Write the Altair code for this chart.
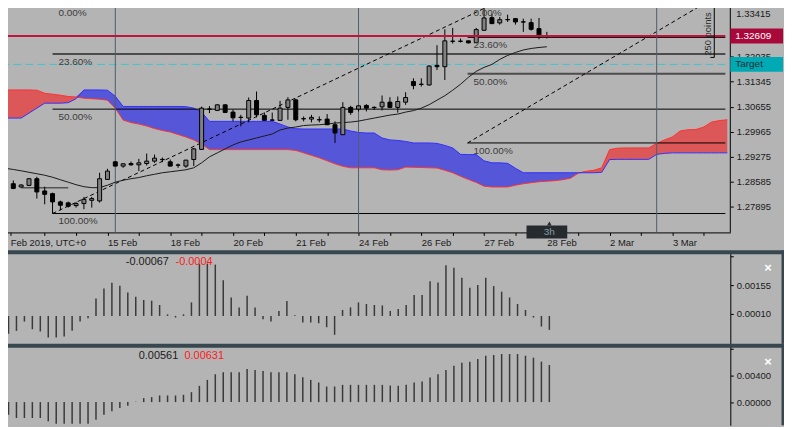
import altair as alt
import pandas as pd

FONT = "Liberation Sans"
BG = "#b4b4b4"
SEP = "#37474f"

# ---------------- data ----------------
candle_i = list(range(70))
opens = [1.28939, 1.28527, 1.28437, 1.28481, 1.28665, 1.28327, 1.28253, 1.28025, 1.27998, 1.27923,
         1.27978, 1.28069, 1.28052, 1.28646, 1.29132, 1.29014, 1.29085, 1.29049, 1.29085, 1.29151,
         1.29190, 1.29132, 1.29045, 1.29014, 1.29195, 1.29475, 1.30590, 1.30551, 1.30705, 1.30505,
         1.30362, 1.30340, 1.30826, 1.30414, 1.30288, 1.30277, 1.30634, 1.30842, 1.30324, 1.30312,
         1.30296, 1.30312, 1.30156, 1.29881, 1.30634, 1.30587, 1.30689, 1.30637, 1.30650, 1.30779,
         1.30634, 1.30779, 1.31348, 1.31276, 1.31254, 1.31795, 1.31759, 1.32465, 1.32465, 1.32473,
         1.32427, 1.32765, 1.33113, 1.32968, 1.33061, 1.33086, 1.32998, 1.32976, 1.32811, 1.32600]
highs = [1.29077, 1.28618, 1.28514, 1.28678, 1.28720, 1.28445, 1.28280, 1.28061, 1.28033, 1.28025,
         1.28162, 1.28162, 1.28830, 1.28939, 1.29145, 1.29090, 1.29140, 1.29214, 1.29360, 1.29332,
         1.29250, 1.29195, 1.29085, 1.29187, 1.29516, 1.30656, 1.30669, 1.30724, 1.30724, 1.30568,
         1.30430, 1.30908, 1.31073, 1.30496, 1.30491, 1.30815, 1.30916, 1.30875, 1.30386, 1.30430,
         1.30386, 1.30450, 1.30249, 1.30779, 1.30678, 1.30697, 1.30724, 1.30661, 1.30963, 1.30916,
         1.30936, 1.31054, 1.31438, 1.31438, 1.31803, 1.32353, 1.32792, 1.32830, 1.32537, 1.32482,
         1.32830, 1.33470, 1.33223, 1.33132, 1.33196, 1.33105, 1.33086, 1.33086, 1.33105, 1.32721]
lows = [1.28473, 1.28376, 1.28418, 1.28459, 1.28116, 1.27959, 1.27704, 1.27794, 1.27868, 1.27868,
        1.27822, 1.27868, 1.28006, 1.28637, 1.29008, 1.28967, 1.29022, 1.28876, 1.29030, 1.29104,
        1.29123, 1.29008, 1.28967, 1.28967, 1.29014, 1.29461, 1.30477, 1.30532, 1.30477, 1.30249,
        1.30112, 1.30222, 1.30359, 1.30258, 1.30258, 1.30258, 1.30293, 1.30249, 1.30249, 1.30222,
        1.30222, 1.30148, 1.29653, 1.29873, 1.30430, 1.30524, 1.30524, 1.30568, 1.30551, 1.30628,
        1.30491, 1.30705, 1.31136, 1.31210, 1.31238, 1.31666, 1.31392, 1.32399, 1.32427, 1.32399,
        1.32399, 1.32756, 1.32935, 1.32921, 1.32995, 1.32921, 1.32721, 1.32756, 1.32517, 1.32537]
closes = [1.28508, 1.28398, 1.28492, 1.28665, 1.28300, 1.28234, 1.28025, 1.27932, 1.27904, 1.27978,
          1.28096, 1.28116, 1.28665, 1.28876, 1.29014, 1.29077, 1.29049, 1.29104, 1.29151, 1.29233,
          1.29200, 1.29014, 1.29038, 1.29178, 1.29489, 1.30614, 1.30584, 1.30705, 1.30496, 1.30348,
          1.30356, 1.30826, 1.30430, 1.30277, 1.30282, 1.30614, 1.30842, 1.30293, 1.30318, 1.30359,
          1.30290, 1.30156, 1.29928, 1.30634, 1.30496, 1.30678, 1.30614, 1.30631, 1.30779, 1.30634,
          1.30798, 1.30908, 1.31238, 1.31270, 1.31776, 1.31759, 1.32473, 1.32459, 1.32459, 1.32418,
          1.32784, 1.33105, 1.32949, 1.33058, 1.33055, 1.32995, 1.32992, 1.32792, 1.32583, 1.32609]
ma_line = [1.28953, 1.28920, 1.28884, 1.28843, 1.28802, 1.28761, 1.28706, 1.28637, 1.28569, 1.28500,
           1.28445, 1.28418, 1.28418, 1.28486, 1.28569, 1.28624, 1.28665, 1.28698, 1.28747, 1.28788,
           1.28830, 1.28857, 1.28884, 1.28912, 1.28967, 1.29104, 1.29269, 1.29379, 1.29489, 1.29598,
           1.29681, 1.29736, 1.29791, 1.29846, 1.29900, 1.30010, 1.30065, 1.30093, 1.30134, 1.30148,
           1.30156, 1.30175, 1.30203, 1.30216, 1.30230, 1.30257, 1.30299, 1.30340, 1.30381, 1.30422,
           1.30450, 1.30505, 1.30546, 1.30614, 1.30711, 1.30834, 1.30958, 1.31109, 1.31273, 1.31466,
           1.31630, 1.31740, 1.31823, 1.31960, 1.32070, 1.32152, 1.32221, 1.32262, 1.32290, 1.32309]

cloud_i = list(range(-1, 93))
span_a = [1.31117, 1.31117, 1.31117, 1.31117, 1.31117, 1.31109, 1.31026, 1.30999, 1.30971, 1.30936,
          1.30922, 1.30889, 1.30875, 1.30862, 1.30834, 1.30614, 1.30285, 1.30216, 1.30175, 1.30120,
          1.30051, 1.29997, 1.29955, 1.29887, 1.29818, 1.29736, 1.29626, 1.29469, 1.29469, 1.29469,
          1.29469, 1.29469, 1.29469, 1.29469, 1.29469, 1.29469, 1.29469, 1.29469, 1.29447, 1.29379,
          1.29310, 1.29241, 1.29159, 1.29077, 1.29008, 1.28967, 1.28967, 1.28967, 1.28967, 1.28912,
          1.28904, 1.28912, 1.28986, 1.28981, 1.28975, 1.28967, 1.28961, 1.28898, 1.28830, 1.28733,
          1.28646, 1.28563, 1.28459, 1.28437, 1.28437, 1.28437, 1.28486, 1.28527, 1.28555, 1.28582,
          1.28596, 1.28610, 1.28637, 1.28678, 1.28816, 1.28871, 1.28898, 1.28967, 1.29469, 1.29508,
          1.29516, 1.29516, 1.29516, 1.29516, 1.29640, 1.29736, 1.29818, 1.29983, 1.30019, 1.30024,
          1.30093, 1.30230, 1.30271, 1.30293]
span_b = [1.30340, 1.30340, 1.30340, 1.30340, 1.30477, 1.30614, 1.30752, 1.30752, 1.30752, 1.30765,
          1.30875, 1.31117, 1.31117, 1.31117, 1.31109, 1.30944, 1.30661, 1.30661, 1.30661, 1.30661,
          1.30661, 1.30661, 1.30661, 1.30661, 1.30656, 1.30614, 1.30505, 1.30249, 1.30249, 1.30249,
          1.30249, 1.30249, 1.30249, 1.30249, 1.30249, 1.30249, 1.30175, 1.30093, 1.30046, 1.30038,
          1.30038, 1.30038, 1.30038, 1.30038, 1.30038, 1.29983, 1.29942, 1.29928, 1.29928, 1.29791,
          1.29736, 1.29722, 1.29695, 1.29653, 1.29653, 1.29653, 1.29640, 1.29585, 1.29516, 1.29338,
          1.29332, 1.29332, 1.29159, 1.29104, 1.29104, 1.29090, 1.28953, 1.28830, 1.28830, 1.28830,
          1.28830, 1.28830, 1.28830, 1.28830, 1.28830, 1.28830, 1.28830, 1.28843, 1.29195, 1.29200,
          1.29200, 1.29200, 1.29200, 1.29200, 1.29338, 1.29365, 1.29379, 1.29379, 1.29379, 1.29379,
          1.29379, 1.29379, 1.29379, 1.29379]

osc1 = [-0.000585, -0.0009, -0.00075, -0.000283, -0.00067, -0.000783, -0.001083, -0.001083, -0.001033, -0.00075,
        -0.000283, -0.000117, 0.00088, 0.00138, 0.001667, 0.001517, 0.00118, 0.000967, 0.0008, 0.000767,
        0.00055, 0.00008, -0.00008, 0.00008, 0.00068, 0.00263, 0.00263, 0.00258, 0.0018, 0.00093,
        0.00043, 0.001017, 0.00043, -0.000167, -0.000283, 0.00025, 0.00075, 0.00003, -0.00033, -0.00033,
        -0.000367, -0.000567, -0.00095, 0.0003, 0.00043, 0.00068, 0.0006, 0.00055, 0.00053, 0.00025,
        0.00035, 0.00055, 0.00105, 0.00105, 0.00175, 0.00168, 0.00255, 0.00242, 0.00192, 0.00142,
        0.00155, 0.00192, 0.0015, 0.00122, 0.00093, 0.0006, 0.0003, -0.00008, -0.000533, -0.0007]
osc2 = [-0.0019, -0.0019, -0.0024, -0.0024, -0.0024, -0.0024, -0.0029, -0.00325, -0.00325, -0.00325,
        -0.00325, -0.00325, -0.00265, -0.0019, -0.0014, -0.0009, -0.00055, 0.00005, 0.0006, 0.00075,
        0.001, 0.001, 0.001, 0.0011, 0.0015, 0.00245, 0.00335, 0.0042, 0.0045, 0.0045,
        0.0045, 0.005, 0.00485, 0.0047, 0.0045, 0.0045, 0.0045, 0.0042, 0.00375, 0.00335,
        0.00295, 0.00235, 0.00235, 0.0026, 0.0026, 0.0026, 0.0026, 0.0026, 0.0026, 0.0025,
        0.00245, 0.0026, 0.00295, 0.0031, 0.0037, 0.0042, 0.00485, 0.0055, 0.00595, 0.0061,
        0.0065, 0.007, 0.0071, 0.00725, 0.00725, 0.00725, 0.007, 0.0067, 0.0061, 0.0056]

price_ticks = [1.27895, 1.28585, 1.29275, 1.29965, 1.30655, 1.31345, 1.32035, 1.33415]
top_tick_label = "1.33415"
date_pos = [0.6, 13, 21, 29, 37, 45, 53, 61, 69, 77, 85]
date_labels = ["Feb 2019, UTC+0", "15 Feb", "18 Feb", "20 Feb", "21 Feb", "24 Feb",
               "26 Feb", "27 Feb", "28 Feb", "2 Mar", "3 Mar"]
minor_ticks = [5, 9, 13, 17, 21, 25, 29, 33, 37, 41, 45, 49, 53, 57, 61, 65, 69, 73, 77, 81, 85, 89]
osc1_ticks = [0.0001, 0.00155, 0.003]
osc2_ticks = [0.0, 0.004, 0.008]

fib_start = [6, 6, 6, 6, 58.9, 58.9, 58.9, 58.9]
fib_price = [1.33470, 1.32109, 1.30587, 1.27704, 1.33470, 1.32569, 1.31562, 1.29653]
fib_text = ["0.00%", "23.60%", "50.00%", "100.00%", "0.00%", "23.60%", "50.00%", "100.00%"]
fib_style = ["thin", "thick", "thin", "thin", "thin", "thin", "thick", "thin"]

trend_x1 = [6, 58.9]
trend_p1 = [1.27704, 1.29653]
trend_x2 = [62, 91.75]
trend_p2 = [1.33470, 1.33846]

period_sep = [14, 45, 83]
bid_price = 1.32609
target_price = 1.31823
seg_x = [2, 8]
seg_price = 1.28418
ruler_i = 90.34
ruler_foot = [89.85, 90.34]
ruler_low = 1.32015
ruler_text_pos = (89.5, 1.32060)

osc1_texts = ["-0.00067", "-0.0004"]
osc2_texts = ["0.00561", "0.00631"]

X_DOM = [-0.5, 91.75]
Y_DOM = [1.26688, 1.33635]

# ---------------- helpers ----------------
XS = alt.Scale(domain=X_DOM, nice=False, zero=False)
YS = alt.Scale(domain=Y_DOM, nice=False, zero=False)

lab_expr = "''"
for p, t in reversed(list(zip(date_pos, date_labels))):
    lab_expr = f"datum.value == {p} ? '{t}' : ({lab_expr})"

x_axis = alt.Axis(values=[date_pos[0]] + minor_ticks, labelExpr=lab_expr, orient="bottom", offset=-18,
                  tickSize=3, tickColor="black", domainColor="black", labelAlign="left",
                  labelBaseline="top", labelPadding=2, labelFontSize=9.5, labelColor="#1a1a1a",
                  labelFont=FONT, labelFlush=False, labelOverlap=False, grid=False, title=None)
y_axis = alt.Axis(orient="right", values=price_ticks, tickSize=3, tickColor="black",
                  labelExpr="datum.value > 1.334 ? '' : format(datum.value, '.5f')",
                  domain=False, grid=False, labelPadding=3, labelFontSize=9.5, labelColor="#1a1a1a",
                  labelFont=FONT, labelOverlap=False, title=None)


def X(f):
    return alt.X(f, type="quantitative", scale=XS, axis=x_axis)


def Y(f):
    return alt.Y(f, type="quantitative", scale=YS, axis=y_axis)


one = pd.DataFrame({"k": [0]})

# ---------------- main panel ----------------
cloud = pd.DataFrame({"i": cloud_i, "a": span_a, "b": span_b})
red_area = alt.Chart(cloud).transform_calculate(top="max(datum.a, datum.b)").mark_area(
    color="#dc5858", clip=True).encode(x=X("i"), y=Y("top"), y2="b:Q")
blue_area = alt.Chart(cloud).transform_calculate(top="max(datum.a, datum.b)").mark_area(
    color="#5656d8", clip=True).encode(x=X("i"), y=Y("top"), y2="a:Q")
a_line = alt.Chart(cloud).mark_line(color="#ff3030", strokeWidth=1, clip=True).encode(x=X("i"), y=Y("a"))
b_line = alt.Chart(cloud).mark_line(color="#3030ff", strokeWidth=1, clip=True).encode(x=X("i"), y=Y("b"))

fib = pd.DataFrame({"s": fib_start, "e": [X_DOM[1]] * len(fib_start), "p": fib_price,
                    "t": fib_text, "st": fib_style})
fib["lx"] = fib["s"] + 0.75
fib_thin = alt.Chart(fib).transform_filter("datum.st == 'thin'").mark_rule(
    color="black", strokeWidth=1).encode(x=X("s"), x2="e:Q", y=Y("p"))
fib_thick = alt.Chart(fib).transform_filter("datum.st == 'thick'").mark_rule(
    color="#4c4c4c", strokeWidth=2).encode(x=X("s"), x2="e:Q", y=Y("p"))
fib_lab = alt.Chart(fib).mark_text(align="left", baseline="middle", dy=8, fontSize=10, font=FONT,
                                   color="#3c3c3c").encode(x=X("lx"), y=Y("p"), text="t:N")

lv = pd.DataFrame({"x1": [X_DOM[0]], "x2": [X_DOM[1]], "bid": [bid_price], "tg": [target_price]})
target_line = alt.Chart(lv).mark_rule(color="#3cc6cf", strokeWidth=1, strokeDash=[8, 4]).encode(
    x=X("x1"), x2="x2:Q", y=Y("tg"))
bid_line = alt.Chart(lv).mark_rule(color="#c0143c", strokeWidth=2).encode(
    x=X("x1"), x2="x2:Q", y=Y("bid"))

seg = pd.DataFrame({"x1": [seg_x[0]], "x2": [seg_x[1]], "p": [seg_price]})
seg_line = alt.Chart(seg).mark_rule(color="#555555", strokeWidth=1.5).encode(x=X("x1"), x2="x2:Q", y=Y("p"))

tr = pd.DataFrame({"x1": trend_x1, "p1": trend_p1, "x2": trend_x2, "p2": trend_p2})
trend = alt.Chart(tr).mark_rule(color="black", strokeWidth=1, strokeDash=[4, 3], clip=True).encode(
    x=X("x1"), y=Y("p1"), x2="x2:Q", y2="p2:Q")

sep = pd.DataFrame({"i": period_sep})
seps = alt.Chart(sep).mark_rule(color="#4f5d68", strokeWidth=1).encode(
    x=X("i"), y=alt.value(0), y2=alt.value(235))

cd = pd.DataFrame({"i": candle_i, "o": opens, "h": highs, "l": lows, "c": closes, "ma": ma_line})
ma = alt.Chart(cd).mark_line(color="#1a1a1a", strokeWidth=1).encode(x=X("i"), y=Y("ma"))
wicks = alt.Chart(cd).mark_rule(color="black", strokeWidth=1).encode(x=X("i"), y=Y("l"), y2="h:Q")
bodies = alt.Chart(cd).mark_bar(size=4, stroke="black", strokeWidth=1).encode(
    x=X("i"), y=Y("o"), y2="c:Q",
    fill=alt.condition("datum.c >= datum.o", alt.value("#808080"), alt.value("#000000")))

rl = pd.DataFrame({"x": [ruler_i], "lo": [ruler_low], "hi": [Y_DOM[1] + 0.003],
                   "f1": [ruler_foot[0]], "f2": [ruler_foot[1]],
                   "tx": [ruler_text_pos[0]], "ty": [ruler_text_pos[1]], "t": ["250 points"]})
ruler_v = alt.Chart(rl).mark_rule(color="black", clip=True).encode(x=X("x"), y=Y("lo"), y2="hi:Q")
ruler_f = alt.Chart(rl).mark_rule(color="black").encode(x=X("f1"), x2="f2:Q", y=Y("lo"))
ruler_t = alt.Chart(rl).mark_text(angle=270, align="left", baseline="middle", fontSize=9.5, font=FONT,
                                  color="#2a2a2a", clip=True).encode(x=X("tx"), y=Y("ty"), text="t:N")

axis_line = alt.Chart(one).mark_rule(color="black").encode(
    x=alt.value(738), y=alt.value(0), y2=alt.value(235))
top_label = alt.Chart(pd.DataFrame({"t": [top_tick_label]})).mark_text(
    align="left", baseline="middle", fontSize=9.5, font=FONT, color="#1a1a1a").encode(
    x=alt.value(744), y=alt.value(15), text="t:N")

boxes = pd.DataFrame({"p": [bid_price, target_price], "t": ["1.32609", "Target"],
                      "fill": ["#a8083a", "#00aab4"], "tc": ["#ffffff", "#1c2a30"]})
box_rect = alt.Chart(boxes).transform_calculate(
    p1="datum.p + 0.00206", p2="datum.p - 0.00206").mark_rect().encode(
    x=alt.value(738), x2=alt.value(791), y=Y("p1"), y2="p2:Q",
    fill=alt.Fill("fill:N", scale=None))
box_text = alt.Chart(boxes).mark_text(align="left", baseline="middle", fontSize=10, font=FONT).encode(
    x=alt.value(743), y=Y("p"), text="t:N", color=alt.Color("tc:N", scale=None))

tf_box = alt.Chart(one).mark_rect(color="#262b30").encode(
    x=alt.value(533), x2=alt.value(574), y=alt.value(228), y2=alt.value(241))
tf_tri = alt.Chart(one).mark_point(shape="triangle-up", filled=True, size=22, color="#262b30",
                                   opacity=1).encode(x=alt.value(556), y=alt.value(226))
tf_txt = alt.Chart(pd.DataFrame({"t": ["3h"]})).mark_text(
    align="center", baseline="middle", fontSize=10, font=FONT, color="#8a99a3").encode(
    x=alt.value(556), y=alt.value(234.5), text="t:N")

main = alt.layer(red_area, blue_area, a_line, b_line, fib_thin, fib_thick, target_line, seg_line,
                 trend, seps, ma, wicks, bodies, bid_line, fib_lab, ruler_v, ruler_f, ruler_t,
                 axis_line, top_label, box_rect, box_text, tf_box, tf_tri, tf_txt
                 ).properties(width=738, height=253)


# ---------------- oscillator panels ----------------
def osc_panel(vals, dom, ticks, height, sep_h, texts, text_x, text_y):
    df = pd.DataFrame({"i": candle_i, "v": vals, "z": [0.0] * len(vals)})
    hide = ticks[-1] - (ticks[-1] - ticks[-2]) * 0.3
    ax = alt.Axis(orient="right", values=ticks, tickSize=3, tickColor="black", domainColor="black",
                  labelExpr=f"datum.value > {hide} ? '' : format(datum.value, '.5f')",
                  grid=False, labelPadding=3, labelFontSize=9.5, labelColor="#1a1a1a", labelFont=FONT,
                  title=None, labelOverlap=False)
    ys = alt.Scale(domain=dom, nice=False, zero=False)
    bars = alt.Chart(df).mark_rule(color="#3a3a3a", strokeWidth=1.5).encode(
        x=alt.X("i:Q", scale=XS, axis=None), y=alt.Y("v:Q", scale=ys, axis=ax), y2="z:Q")
    sep_r = alt.Chart(one).mark_rect(color=SEP).encode(
        x=alt.value(0), x2=alt.value(792), y=alt.value(0), y2=alt.value(sep_h))
    edge = alt.Chart(one).mark_rect(color=SEP).encode(
        x=alt.value(789.5), x2=alt.value(792), y=alt.value(0), y2=alt.value(height))
    t1 = alt.Chart(pd.DataFrame({"t": [texts[0]]})).mark_text(
        align="left", baseline="middle", fontSize=11, font=FONT, color="#1a1a1a").encode(
        x=alt.value(text_x[0]), y=alt.value(text_y), text="t:N")
    t2 = alt.Chart(pd.DataFrame({"t": [texts[1]]})).mark_text(
        align="left", baseline="middle", fontSize=11, font=FONT, color="#ff1a1a").encode(
        x=alt.value(text_x[1]), y=alt.value(text_y), text="t:N")
    close = alt.Chart(pd.DataFrame({"t": ["×"]})).mark_text(
        align="center", baseline="middle", fontSize=13, fontWeight="bold", font=FONT,
        color="white").encode(x=alt.value(776), y=alt.value(18), text="t:N")
    return alt.layer(bars, sep_r, edge, t1, t2, close).properties(width=738, height=height)


sub1 = osc_panel(osc1, [-0.0014, 0.0033], osc1_ticks, 94, 4, osc1_texts, (130, 180), 12)
sub2 = osc_panel(osc2, [-0.0035, 0.0088], osc2_ticks, 82, 4, osc2_texts, (143, 189), 12.5)

chart = alt.vconcat(main, sub1, sub2, spacing=0).properties(
    background=BG, padding={"left": -11.5, "top": -11.5, "right": 0, "bottom": 0}
).configure_view(stroke=None)

chart.save("out.html", embed_options={"renderer": "svg", "actions": False})
